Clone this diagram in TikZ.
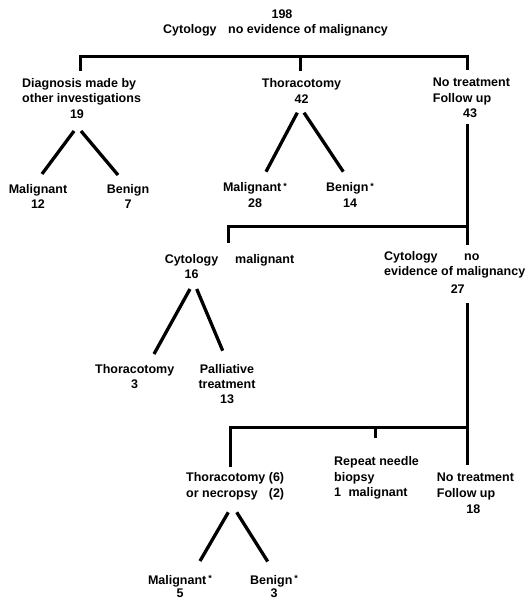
\documentclass[tikz,border=0pt]{standalone}
\usepackage{fontspec}
\setmainfont{Liberation Sans}
\newcommand{\starmark}{\,\raisebox{2.5pt}{\fontsize{9}{9}\selectfont*}}
\begin{document}
\begin{tikzpicture}[x=1pt,y=-1pt,
    txt/.style={inner sep=0pt, anchor=base, font=\fontsize{12.5}{15.3}\selectfont\bfseries},
    txtl/.style={txt, anchor=base west, align=left},
    txtc/.style={txt, align=center},
    bar/.style={line width=3pt},
    limb/.style={line width=3.3pt}]
    \useasboundingbox (0,0) rectangle (525,599);

    \node[txt] (n198) at (282,19) {198};
    \node[txt, anchor=base west] (root) at (163,34) {Cytology\hspace{8pt} no evidence of malignancy};

    \node[txtl] (diag) at (22,102.8) {Diagnosis made by\\other investigations};
    \node[txt] (n19) at (77,118) {19};
    \node[txtc] (thor) at (301.5,103) {Thoracotomy\\42};
    \node[txtl] (notr) at (432.7,102.3) {No treatment\\Follow up};
    \node[txt] (n43) at (470,117.3) {43};

    \node[txtc] (mal1) at (38,208.3) {Malignant\\12};
    \node[txtc] (ben1) at (128,208.3) {Benign\\7};
    \node[txtc] (mal2) at (255,207) {Malignant\starmark\\28};
    \node[txtc] (ben2) at (350,207) {Benign\starmark\\14};

    \node[txtc] (cyt16) at (191.5,278.6) {Cytology\\16};
    \node[txt, anchor=base west] (malig) at (235,263.3) {malignant};
    \node[txtl] (cyt27) at (384,275.3) {Cytology\hspace{23pt} no\\evidence of malignancy};
    \node[txt] (n27) at (457.7,293.3) {27};

    \node[txtc] (thor3) at (134.7,388.6) {Thoracotomy\\3};
    \node[txtc] (pall) at (227,403.9) {Palliative\\treatment\\13};

    \node[txt, anchor=base west] (necro) at (186,481.7)
        {\begin{tabular}[t]{@{}l@{\ }r@{}}Thoracotomy & (6)\\or necropsy & (2)\end{tabular}};
    \node[txtl] (rep) at (334,496.3) {Repeat needle\\biopsy\\1\hspace{4pt} malignant};
    \node[txtl] (notr2) at (436.7,497) {No treatment\\Follow up};
    \node[txt] (n18) at (473.3,513.3) {18};

    \node[txtc, font=\fontsize{12.5}{13.5}\selectfont\bfseries] (mal3) at (180,597.5) {Malignant\starmark\\5};
    \node[txtc, font=\fontsize{12.5}{13.5}\selectfont\bfseries] (ben3) at (274,597.5) {Benign\starmark\\3};

    \draw[bar] (80,71) |- (467,57) -- (467,70);
    \draw[bar] (300.7,57) -- (300.7,71);
    \draw[bar] (467,124) -- (467,245);
    \draw[bar] (228,243) |- (467,226);
    \draw[bar] (467,303) -- (467,465);
    \draw[bar] (230,467) |- (467,427.5);
    \draw[bar] (375,438) -- (375,427.5);

    \draw[limb] ([shift={(-3,13)}]n19.base) -- ([shift={(4,-34.3)}]mal1.base);
    \draw[limb] ([shift={(4,13)}]n19.base) -- ([shift={(-10,-33.3)}]ben1.base);
    \draw[limb] ([shift={(-4.2,9.7)}]thor.base) -- ([shift={(11,-35.3)}]mal2.base);
    \draw[limb] ([shift={(2.5,9.7)}]thor.base) -- ([shift={(-6.7,-35.3)}]ben2.base);
    \draw[limb] ([shift={(-1.5,10.4)}]cyt16.base) -- ([shift={(19.3,-34.6)}]thor3.base);
    \draw[limb] ([shift={(5.2,10.4)}]cyt16.base) -- ([shift={(-4.3,-53.2)}]pall.base);
    \draw[limb] ([shift={(42.3,30.6)}]necro.base west) -- ([shift={(20,-36.5)}]mal3.base);
    \draw[limb] ([shift={(50.7,30.6)}]necro.base west) -- ([shift={(-6.3,-36)}]ben3.base);
\end{tikzpicture}
\end{document}
